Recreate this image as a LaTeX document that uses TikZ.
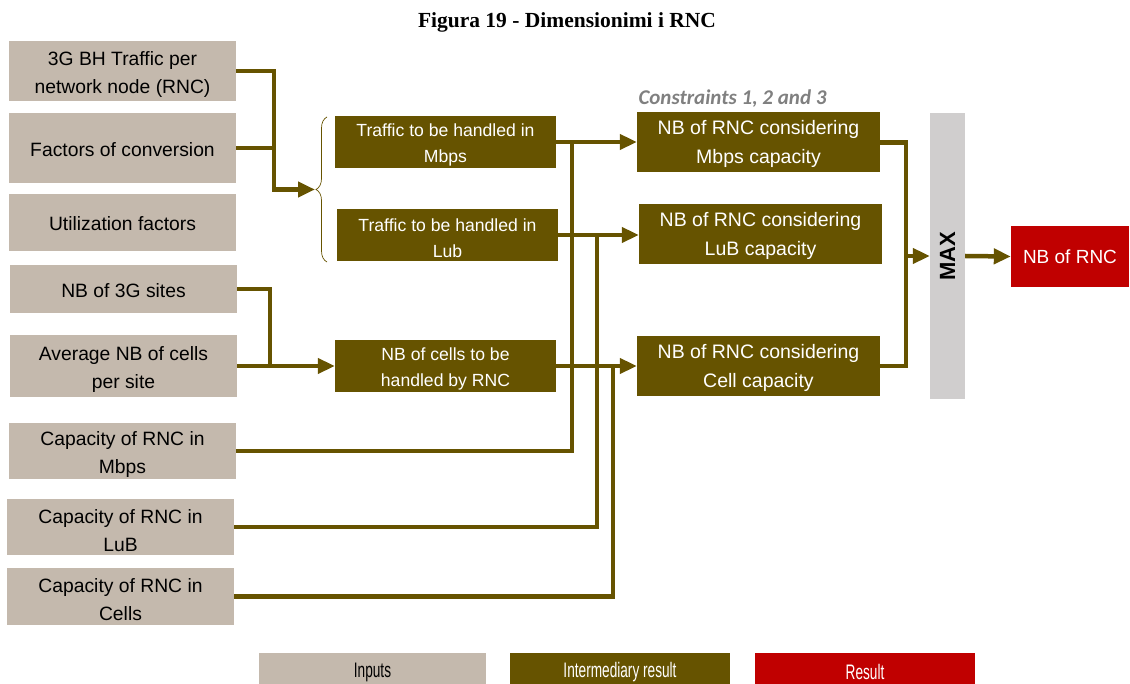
\documentclass[tikz,border=0pt]{standalone}
\usepackage{fontspec}
\setmainfont{Liberation Sans}
\newfontfamily\titlefont{Liberation Serif}
\newfontfamily\consfont{Carlito}
\newfontfamily\legfont[FakeStretch=0.65]{Liberation Sans}
\usetikzlibrary{arrows.meta}
\usetikzlibrary{decorations.pathreplacing}

\definecolor{rncTan}{RGB}{196,185,173}
\definecolor{rncOlive}{RGB}{102,83,0}
\definecolor{rncRed}{RGB}{192,0,0}
\definecolor{rncGrey}{RGB}{208,206,206}
\definecolor{rncText}{RGB}{128,128,128}

\begin{document}
\begin{tikzpicture}[x=1pt, y=-1pt, line join=miter,
  inbase/.style={fill=rncTan, text=black, minimum width=227, minimum height=#1,
    inner sep=0, align=center, font=\fontsize{19.3}{28}\selectfont},
  inbox/.style={inbase=#1, execute at begin node={\rule{0pt}{49pt}}},
  inone/.style={inbase=#1, execute at begin node={\rule{0pt}{0.85em}}},
  midbox/.style={fill=rncOlive, text=white, minimum width=221, minimum height=52,
    inner sep=0, align=center, font=\fontsize{17.6}{26}\selectfont,
    execute at begin node={\rule{0pt}{44.5pt}}},
  rncbox/.style={fill=rncOlive, text=white, minimum width=243, minimum height=60,
    inner sep=0, align=center, font=\fontsize{19.5}{29}\selectfont,
    execute at begin node={\rule{0pt}{47pt}}},
  legbox/.style={minimum width=#1, minimum height=31, inner sep=0,
    font=\legfont\fontsize{21}{21}\selectfont,
    execute at begin node={\rule{0pt}{1.1em}}},
  link/.style={draw=rncOlive, line width=4.5},
  flow/.style={link, -{Triangle[length=17,width=15]}}]
  \useasboundingbox (0,0) rectangle (1130,684);

  \node[font=\titlefont\bfseries\fontsize{21.5}{24}\selectfont] (title) at (567,22) {Figura 19 - Dimensionimi i RNC};

  \node[inbox=60] (bh) at (122.5,71) {3G BH Traffic per\\network node (RNC)};
  \node[inone=70] (conv) at (122.5,148) {Factors of conversion};
  \node[inone=57] (util) at (122.5,222.5) {Utilization factors};
  \node[inone=48] (sites) at (123.5,289) {NB of 3G sites};
  \node[inbox=62] (cellsite) at (123.5,366) {Average NB of cells\\per site};
  \node[inbox=56] (capmbps) at (122.5,451) {Capacity of RNC in\\Mbps};
  \node[inbox=56] (caplub) at (120.5,527) {Capacity of RNC in\\LuB};
  \node[inbox=57] (capcell) at (120.5,596.5) {Capacity of RNC in\\Cells};

  \node[midbox] (trmbps) at (445.5,142) {Traffic to be handled in\\Mbps};
  \node[midbox] (trlub) at (447.5,235) {Traffic to be handled in\\Lub};
  \node[midbox] (ncell) at (445.5,366) {NB of cells to be\\handled by RNC};

  \node[text=rncText, font=\consfont\bfseries\itshape\fontsize{21}{24}\selectfont] (cons) at (732.5,99) {Constraints 1, 2 and 3};
  \node[rncbox] (rncmbps) at (758.5,142.5) {NB of RNC considering\\Mbps capacity};
  \node[rncbox] (rnclub) at (760.5,234) {NB of RNC considering\\LuB capacity};
  \node[rncbox] (rnccell) at (758.5,366) {NB of RNC considering\\Cell capacity};

  \node[fill=rncGrey, minimum width=35, minimum height=286, inner sep=0] (max) at (947.5,256)
    {\rotatebox{90}{\fontsize{22}{22}\selectfont\bfseries MAX}};
  \node[fill=rncRed, text=white, minimum width=118, minimum height=61, inner sep=0,
    font=\fontsize{19}{22}\selectfont] (res) at (1070,256.5) {NB of RNC};

  \coordinate (jt) at (274,189.5);
  \coordinate (tip) at (315,189.5);
  \coordinate (jc) at (270,366);
  \coordinate (jm) at (906,256);

  \draw[rncOlive, line width=0.7, decorate, decoration={brace, amplitude=11}] (327,262) -- (327,117);

  \draw[flow] (bh.east) -| (jt) -- (tip);
  \draw[link] (conv.east) -- (conv.east -| jt);
  \draw[flow] (sites.east) -| (jc) -- (ncell.west);
  \draw[link] (cellsite.east) -- (jc);

  \draw[flow] (trmbps.east) -- (trmbps.east -| rncmbps.west);
  \draw[flow] (trlub.east) -- (trlub.east -| rnclub.west);
  \draw[flow] (ncell.east) -- (rnccell.west);
  \draw[link] (capmbps.east) -| ([xshift=16]trmbps.east);
  \draw[link] (caplub.east) -| ([xshift=39]trlub.east);
  \draw[link] (capcell.east) -| ([xshift=57]ncell.east);

  \draw[link] (rncmbps.east) -| (jm) |- (rnccell.east);
  \draw[flow] (jm) -- (max.west);
  \draw[flow] (max.east) -- (res.west);

  \node[legbox=227, fill=rncTan, text=black] (leginp) at (372.5,668.5) {Inputs};
  \node[legbox=220, fill=rncOlive, text=white] (legmid) at (620,668.5) {Intermediary result};
  \node[legbox=220, fill=rncRed, text=white] (legres) at (865,668.5) {Result};
\end{tikzpicture}
\end{document}
